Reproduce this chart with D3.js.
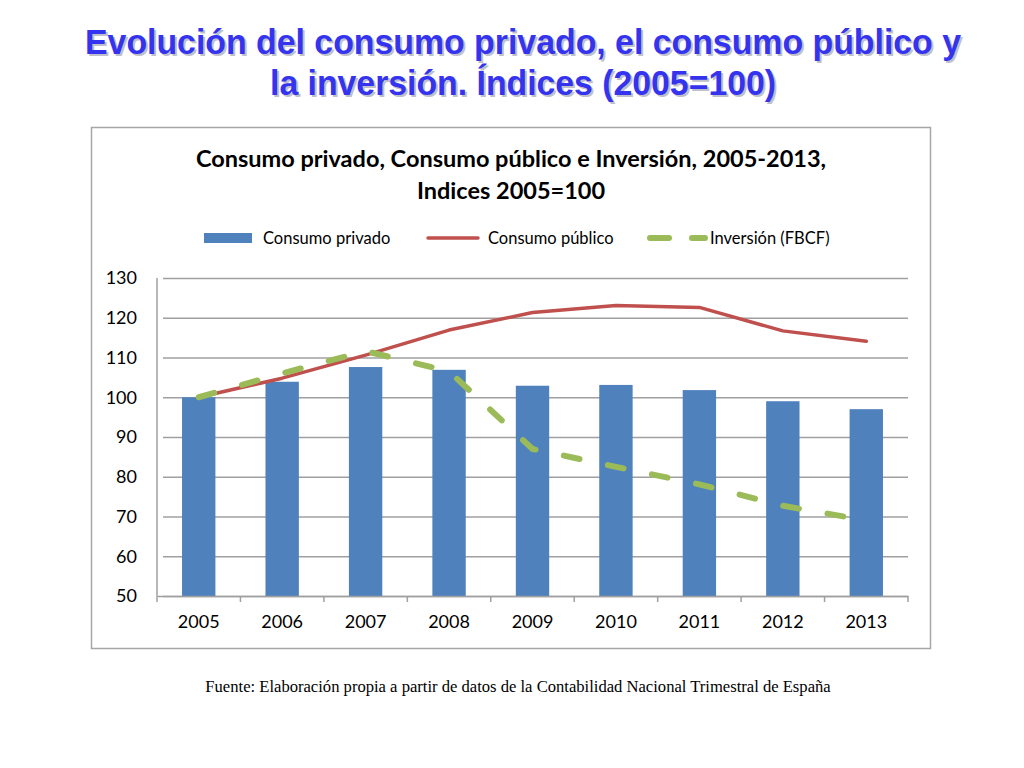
<!DOCTYPE html>
<html>
<head>
<meta charset="utf-8">
<script src="https://cdn.jsdelivr.net/npm/d3@7"></script>
<style>
  body { margin: 0; background: #fff; }
  svg { display: block; }
</style>
</head>
<body>
<script>
const years = ["2005", "2006", "2007", "2008", "2009", "2010", "2011", "2012", "2013"];
const consumoPrivado = [100, 103.9, 107.6, 106.9, 102.9, 103.1, 101.8, 99.0, 97.0];
const consumoPublico = [100, 104.8, 110.6, 116.9, 121.3, 123.1, 122.6, 116.7, 114.1];
const inversion = [100, 106.0, 111.6, 106.5, 87.0, 82.5, 78.1, 72.7, 69.0];
const yTicks = [50, 60, 70, 80, 90, 100, 110, 120, 130];

const W = 1024, H = 768;
const svg = d3.select("body").append("svg").attr("width", W).attr("height", H);

// slide title
const titleG = svg.append("g")
  .attr("font-family", "'Liberation Sans', Arial, sans-serif")
  .attr("font-weight", "bold")
  .attr("font-size", 35)
  .attr("text-anchor", "middle");
[["Evolución del consumo privado, el consumo público y", 54, 876], ["la inversión. Índices (2005=100)", 95, 506]].forEach(([t, y, len]) => {
  titleG.append("text").attr("x", 525).attr("y", y + 2).attr("fill", "#c0c0cc")
    .attr("textLength", len).attr("lengthAdjust", "spacingAndGlyphs").text(t);
  titleG.append("text").attr("x", 523).attr("y", y).attr("fill", "#3434f0")
    .attr("textLength", len).attr("lengthAdjust", "spacingAndGlyphs").text(t);
});

// chart frame
svg.append("rect")
  .attr("x", 91.5).attr("y", 127.5).attr("width", 839).attr("height", 521)
  .attr("fill", "#fff").attr("stroke", "#a6a6a6").attr("stroke-width", 1.5);

const chartFont = "Lato, 'Open Sans', sans-serif";
svg.append("g")
  .attr("font-family", chartFont).attr("font-weight", "bold").attr("font-size", 23.5)
  .attr("text-anchor", "middle").attr("fill", "#000")
  .selectAll("text")
  .data([["Consumo privado, Consumo público e Inversión, 2005-2013,", 167], ["Indices 2005=100", 199]])
  .join("text").attr("x", 511).attr("y", d => d[1]).text(d => d[0]);

// legend
const leg = svg.append("g").attr("font-family", chartFont).attr("font-size", 16.5);
leg.append("rect").attr("x", 204).attr("y", 233).attr("width", 48).attr("height", 10).attr("fill", "#4f81bd");
leg.append("text").attr("x", 263).attr("y", 244).text("Consumo privado");
leg.append("line").attr("x1", 428).attr("x2", 478).attr("y1", 238).attr("y2", 238)
  .attr("stroke", "#c0504d").attr("stroke-width", 3.5).attr("stroke-linecap", "round");
leg.append("text").attr("x", 488).attr("y", 244).text("Consumo público");
leg.append("line").attr("x1", 650).attr("x2", 705).attr("y1", 238).attr("y2", 238)
  .attr("stroke", "#9bbb59").attr("stroke-width", 6).attr("stroke-linecap", "round")
  .attr("stroke-dasharray", "19 23");
leg.append("text").attr("x", 710).attr("y", 244).text("Inversión (FBCF)");

// plot
const m = { left: 157, right: 908, top: 278, bottom: 596 };
const x = d3.scaleBand().domain(years).range([m.left, m.right]).paddingInner(0.6).paddingOuter(0.3);
const xc = d => x(d) + x.bandwidth() / 2;
const xb = d3.scaleBand().domain(years).range([m.left, m.right]);
const y = d3.scaleLinear().domain([50, 130]).range([m.bottom, m.top]);

svg.append("g")
  .attr("transform", `translate(${m.left},0)`)
  .call(d3.axisLeft(y).tickValues(yTicks).tickSize(-(m.right - m.left)).tickPadding(20))
  .call(g => g.select(".domain").remove())
  .call(g => g.selectAll(".tick line").attr("stroke", "#a0a0a0").attr("stroke-width", 1.5)
    .attr("x1", 6))
  .call(g => g.selectAll(".tick text").attr("font-family", chartFont).attr("font-size", 18).attr("fill", "#000"));

svg.append("line").attr("x1", m.left).attr("x2", m.left).attr("y1", m.top).attr("y2", m.bottom)
  .attr("stroke", "#a0a0a0").attr("stroke-width", 1.5);

svg.append("g")
  .selectAll("rect")
  .data(years)
  .join("rect")
  .attr("x", d => x(d))
  .attr("width", x.bandwidth())
  .attr("y", (d, i) => y(consumoPrivado[i]))
  .attr("height", (d, i) => y(50) - y(consumoPrivado[i]))
  .attr("fill", "#4f81bd");

// x axis
svg.append("g")
  .attr("transform", `translate(0,${m.bottom})`)
  .call(d3.axisBottom(xb).tickSize(0).tickPadding(19))
  .call(g => g.select(".domain").attr("stroke", "#a0a0a0").attr("stroke-width", 1.5))
  .call(g => g.selectAll(".tick text").attr("font-family", chartFont).attr("font-size", 18).attr("fill", "#000"));
svg.append("g")
  .selectAll("line")
  .data(years.concat(["end"]))
  .join("line")
  .attr("x1", (d, i) => m.left + i * xb.step())
  .attr("x2", (d, i) => m.left + i * xb.step())
  .attr("y1", m.bottom).attr("y2", m.bottom + 6)
  .attr("stroke", "#a0a0a0").attr("stroke-width", 1.5);

const line = d3.line().x((d, i) => xc(years[i])).y(d => y(d));
svg.append("path").datum(consumoPublico)
  .attr("d", line).attr("fill", "none")
  .attr("stroke", "#c0504d").attr("stroke-width", 3.5).attr("stroke-linejoin", "round").attr("stroke-linecap", "round");
svg.append("path").datum(inversion)
  .attr("d", line).attr("fill", "none")
  .attr("stroke", "#9bbb59").attr("stroke-width", 6).attr("stroke-linecap", "round")
  .attr("stroke-dasharray", "16 29");

// source
svg.append("text")
  .attr("x", 518).attr("y", 692)
  .attr("text-anchor", "middle")
  .attr("font-family", "'Liberation Serif', 'DejaVu Serif', serif")
  .attr("font-size", 16.6)
  .text("Fuente: Elaboración propia a partir de datos de la Contabilidad Nacional Trimestral de España");
</script>
</body>
</html>
